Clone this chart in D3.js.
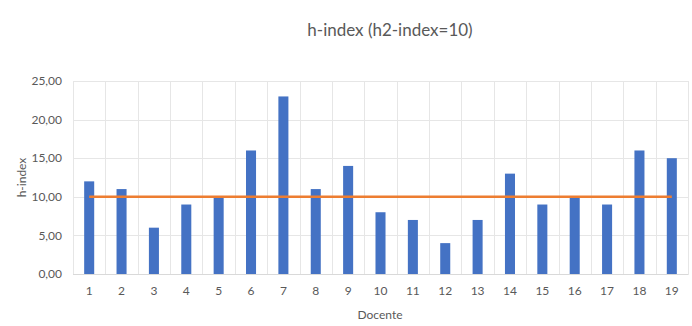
<!DOCTYPE html>
<html><head><meta charset="utf-8">
<script src="https://cdn.jsdelivr.net/npm/d3@7"></script>
<style>body{margin:0;background:#fff}svg{display:block}</style>
</head><body>
<svg id="c" width="692" height="326"></svg>
<script>
const categories = ["1","2","3","4","5","6","7","8","9","10","11","12","13","14","15","16","17","18","19"];
const hIndex = [12,11,6,9,10,16,23,11,14,8,7,4,7,13,9,10,9,16,15];
const h2Index = 10;
const yTicks = [0,5,10,15,20,25];
const title = "h-index (h2-index=10)";
const xTitle = "Docente";
const yTitle = "h-index";

const svg = d3.select("#c");
const font = "Lato, 'Open Sans', sans-serif";
const m = {l:73, r:4, t:81, b:52};
const W = 692, H = 326;
const x = d3.scaleBand().domain(categories).range([m.l, W - m.r]).paddingInner(0.69).paddingOuter(0.345);
const xg = d3.scaleBand().domain(categories).range([m.l, W - m.r]);
const y = d3.scaleLinear().domain([0,25]).range([H - m.b, m.t]);

// horizontal gridlines
svg.append("g").selectAll("line").data(yTicks).join("line")
  .attr("x1", m.l).attr("x2", W - m.r)
  .attr("y1", d => Math.round(y(d)) + 0.5).attr("y2", d => Math.round(y(d)) + 0.5)
  .attr("stroke", "#e6e6e6").attr("stroke-width", 1);
// vertical gridlines
const bounds = categories.map(c => xg(c)).concat([W - m.r]);
svg.append("g").selectAll("line").data(bounds).join("line")
  .attr("x1", d => Math.round(d) + 0.5).attr("x2", d => Math.round(d) + 0.5)
  .attr("y1", m.t).attr("y2", y(0) + 1)
  .attr("stroke", "#e6e6e6").attr("stroke-width", 1);

// bars
svg.append("g").selectAll("rect").data(hIndex).join("rect")
  .attr("x", (d,i) => x(categories[i]))
  .attr("width", x.bandwidth())
  .attr("y", d => y(d))
  .attr("height", d => y(0) - y(d))
  .attr("fill", "#4472C4");

// baseline
svg.append("line").attr("x1", m.l).attr("x2", W - m.r)
  .attr("y1", Math.round(y(0)) + 0.5).attr("y2", Math.round(y(0)) + 0.5)
  .attr("stroke", "#d9d9d9");

// h2 line
const line = d3.line().x(d => xg(d) + xg.bandwidth()/2).y(() => y(h2Index));
svg.append("path").datum([categories[0], categories[categories.length-1]])
  .attr("d", line).attr("stroke", "#ED7D31").attr("stroke-width", 2.5).attr("fill", "none");

// y tick labels
svg.append("g").selectAll("text").data(yTicks).join("text")
  .attr("x", 62).attr("y", d => y(d)).attr("dy", "0.35em")
  .attr("text-anchor", "end").attr("font-family", font).attr("font-size", 12).attr("fill", "#595959")
  .text(d => d3.format(".2f")(d).replace(".", ","));
// x tick labels
svg.append("g").selectAll("text").data(categories).join("text")
  .attr("x", d => xg(d) + xg.bandwidth()/2).attr("y", 291)
  .attr("dy", "0.35em")
  .attr("text-anchor", "middle").attr("font-family", font).attr("font-size", 12).attr("fill", "#595959")
  .text(d => d);

// titles
svg.append("text").attr("x", 390).attr("y", 30).attr("dy", "0.35em").attr("text-anchor", "middle")
  .attr("font-family", font).attr("font-size", 17).attr("fill", "#595959").text(title);
svg.append("text").attr("x", 380).attr("y", 315).attr("dy", "0.35em").attr("text-anchor", "middle")
  .attr("font-family", font).attr("font-size", 12).attr("fill", "#595959").text(xTitle);
svg.append("text").attr("transform", `translate(22,${(y(0)+y(25))/2}) rotate(-90)`)
  .attr("dy", "0.35em").attr("text-anchor", "middle")
  .attr("font-family", font).attr("font-size", 12).attr("fill", "#595959").text(yTitle);
</script>
</body></html>
